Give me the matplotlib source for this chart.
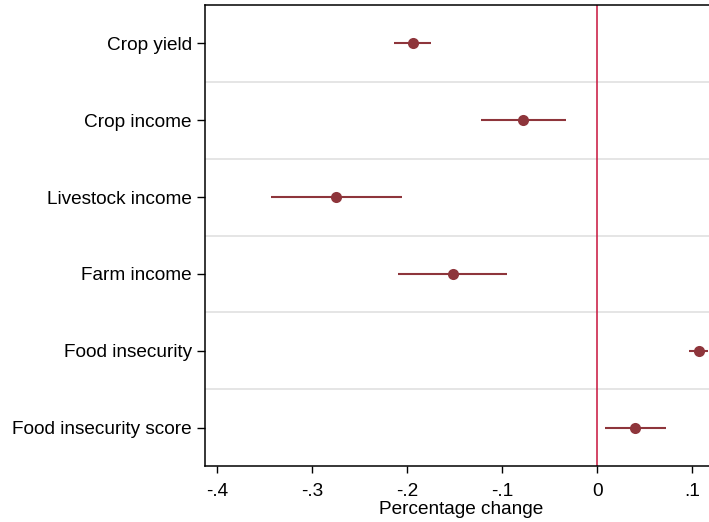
import matplotlib
matplotlib.use("Agg")
import matplotlib.pyplot as plt

categories = ["Crop yield", "Crop income", "Livestock income", "Farm income",
              "Food insecurity", "Food insecurity score"]
estimates = [-0.194, -0.078, -0.275, -0.152, 0.1066, 0.040]
ci_low = [-0.214, -0.122, -0.343, -0.210, 0.097, 0.0077]
ci_high = [-0.175, -0.033, -0.206, -0.095, 0.116, 0.0723]
xticks = [-0.4, -0.3, -0.2, -0.1, 0.0, 0.1]
xticklabels = ["-.4", "-.3", "-.2", "-.1", "0", ".1"]

plt.rcParams['font.family'] = ['Liberation Sans', 'DejaVu Sans']

fig = plt.figure(figsize=(7.09, 5.22), dpi=100)
ax = fig.add_axes([205/709, 56/522, (718-205)/709, (466-5)/522])

mcol = '#8E353B'
ypos = list(range(1, len(categories) + 1))

# gridlines between categories
for g in range(1, len(categories)):
    ax.axhline(g + 0.5, color='#E0E0E0', lw=1.2, zorder=0)

ax.axvline(0, color='#C8143C', lw=1.1, zorder=1)

for y, e, lo, hi in zip(ypos, estimates, ci_low, ci_high):
    ax.plot([lo, hi], [y, y], color=mcol, lw=1.5, zorder=2, solid_capstyle='butt')
ax.plot(estimates, ypos, 'o', color=mcol, ms=8, zorder=3, markeredgewidth=0)

ax.set_ylim(6.5, 0.5)
ax.set_xlim(-0.413, 0.127)
ax.set_yticks(ypos)
ax.set_yticklabels(categories, fontsize=13.7)
ax.set_xticks(xticks)
ax.set_xticklabels(xticklabels, fontsize=13.7)
ax.set_xlabel("Percentage change", fontsize=13.7, labelpad=1)

ax.tick_params(axis='y', length=5.8, width=1, pad=3.6)
ax.tick_params(axis='x', length=5, width=1, pad=7)
for s in ['left', 'top', 'bottom']:
    ax.spines[s].set_linewidth(1.1)
ax.spines['right'].set_visible(False)

fig.savefig("out.png", dpi=100)
